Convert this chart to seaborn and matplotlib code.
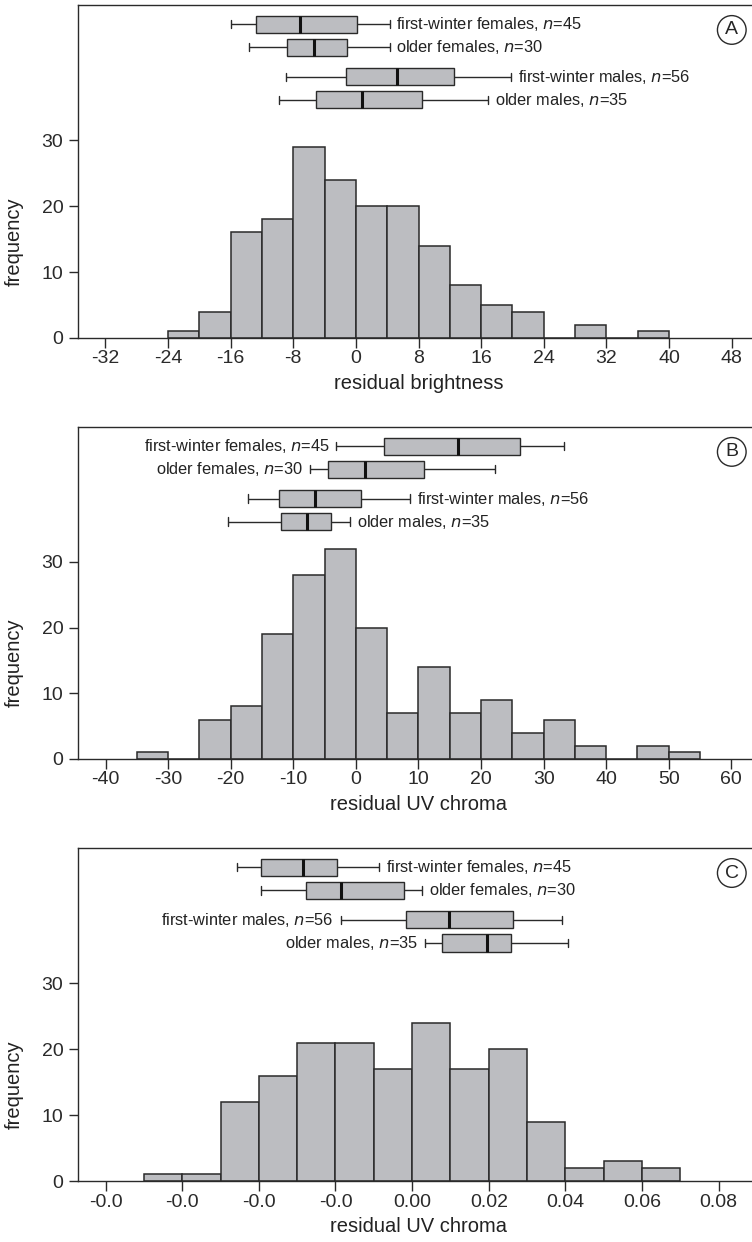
import matplotlib
matplotlib.use("Agg")
import matplotlib.pyplot as plt
import numpy as np
import pandas as pd
import seaborn as sns

# ---- data ----
groups = ["first-winter females", "older females", "first-winter males", "older males"]
group_n = [45, 30, 56, 35]

# panel A: residual brightness
a_bin_start, a_bin_width = -24, 4
a_counts = [1, 4, 16, 18, 29, 24, 20, 20, 14, 8, 5, 4, 0, 2, 0, 1]
# whisker low, q1, median, q3, whisker high (one row per group)
a_box = [[-15.9, -12.7, -7.2, 0.2, 4.3],
         [-13.7, -8.8, -5.3, -1.1, 4.3],
         [-8.9, -1.3, 5.2, 12.5, 19.8],
         [-9.8, -5.1, 0.8, 8.5, 16.9]]
a_sides = ["right", "right", "right", "right"]
a_ticks = [-32, -24, -16, -8, 0, 8, 16, 24, 32, 40, 48]
a_ticklabels = ["-32", "-24", "-16", "-8", "0", "8", "16", "24", "32", "40", "48"]

# panel B: residual UV chroma
b_bin_start, b_bin_width = -35, 5
b_counts = [1, 0, 6, 8, 19, 28, 32, 20, 7, 14, 7, 9, 4, 6, 2, 0, 2, 1]
b_box = [[-3.1, 4.5, 16.3, 26.3, 33.3],
         [-7.4, -4.5, 1.5, 10.9, 22.2],
         [-17.3, -12.3, -6.5, 0.8, 8.7],
         [-20.4, -11.9, -7.8, -3.9, -1.0]]
b_sides = ["left", "left", "right", "right"]
b_ticks = [-40, -30, -20, -10, 0, 10, 20, 30, 40, 50, 60]
b_ticklabels = ["-40", "-30", "-20", "-10", "0", "10", "20", "30", "40", "50", "60"]

# panel C: residual UV chroma
c_bin_start, c_bin_width = -0.07, 0.01
c_counts = [1, 1, 12, 16, 21, 21, 17, 24, 17, 20, 9, 2, 3, 2]
c_box = [[-0.0458, -0.0394, -0.0286, -0.0196, -0.0086],
         [-0.0394, -0.0276, -0.0185, -0.0022, 0.0025],
         [-0.0186, -0.0017, 0.0097, 0.0263, 0.0390],
         [0.0034, 0.0078, 0.0195, 0.0259, 0.0407]]
c_sides = ["right", "right", "left", "left"]
c_ticks = [-0.08, -0.06, -0.04, -0.02, 0.0, 0.02, 0.04, 0.06, 0.08]
c_ticklabels = ["-0.0", "-0.0", "-0.0", "-0.0", "0.00", "0.02", "0.04", "0.06", "0.08"]

# ---- style ----
sns.set_style("ticks")
narrow = ["Liberation Sans Narrow", "Liberation Sans", "DejaVu Sans"]
regular = ["Liberation Sans", "DejaVu Sans"]
plt.rcParams["font.family"] = narrow
plt.rcParams["mathtext.fontset"] = "custom"
plt.rcParams["mathtext.it"] = "Liberation Sans Narrow:italic"
plt.rcParams["mathtext.rm"] = "Liberation Sans Narrow"

fill = "#bcbdc1"
ink = "#2a2a2a"
row_y = [47.6, 44.1, 39.6, 36.1]

fig = plt.figure(figsize=(7.52, 12.42), dpi=100)
panels = [
    ("A", "residual brightness", a_bin_start, a_bin_width, a_counts, a_box, a_sides,
     a_ticks, a_ticklabels, (-35.5, 50.6), [0.1037, 0.7279, 0.8963, 0.2681]),
    ("B", "residual UV chroma", b_bin_start, b_bin_width, b_counts, b_box, b_sides,
     b_ticks, b_ticklabels, (-44.4, 63.3), [0.1037, 0.3889, 0.8963, 0.2673]),
    ("C", "residual UV chroma", c_bin_start, c_bin_width, c_counts, c_box, c_sides,
     c_ticks, c_ticklabels, (-0.0872, 0.0887), [0.1037, 0.0491, 0.8963, 0.2681]),
]

for letter, xlabel, start, width, counts, box, sides, ticks, ticklabels, xlim, rect in panels:
    ax = fig.add_axes(rect)
    edges = [start + width * i for i in range(len(counts) + 1)]
    hist = pd.DataFrame({"x": [e + width / 2 for e in edges[:-1]], "count": counts})
    sns.histplot(data=hist, x="x", weights="count", bins=edges, ax=ax, color=fill,
                 edgecolor=ink, linewidth=1.1, alpha=1)

    long = pd.DataFrame({
        "value": np.concatenate(box),
        "row": np.repeat(row_y, 5),
    })
    sns.boxplot(data=long, x="value", y="row", orient="y", native_scale=True,
                whis=(0, 100), width=0.74, color=fill, saturation=1,
                linecolor=ink, linewidth=1.0, ax=ax,
                medianprops={"linewidth": 2.2, "color": "#111111"})

    for stats, pos, name, n, side in zip(box, row_y, groups, group_n, sides):
        label = f"{name}, $n$=" + str(n)
        if side == "right":
            ax.annotate(label, xy=(stats[4], pos), xytext=(5, 0), textcoords="offset points",
                        ha="left", va="center", fontsize=11.8, color="#222222")
        else:
            ax.annotate(label, xy=(stats[0], pos), xytext=(-5, 0), textcoords="offset points",
                        ha="right", va="center", fontsize=11.8, color="#222222")

    ax.text(0.970, 0.925, letter, transform=ax.transAxes, ha="center", va="center",
            fontsize=14, family=regular,
            bbox=dict(boxstyle="circle,pad=0.3", fc="white", ec=ink, lw=1.0))

    ax.set_xlim(*xlim)
    ax.set_ylim(0, 50.5)
    ax.set_xticks(ticks)
    ax.set_xticklabels(ticklabels)
    ax.set_yticks([0, 10, 20, 30])
    ax.tick_params(axis="x", length=7, width=1, pad=2, labelsize=14, colors=ink)
    ax.tick_params(axis="y", length=6.5, width=1, pad=4, labelsize=14, colors=ink)
    for side in ["left", "top", "bottom"]:
        ax.spines[side].set_color(ink)
        ax.spines[side].set_linewidth(1.0)
    ax.spines["right"].set_visible(False)

    ax.set_xlabel(xlabel, fontsize=14.5, family=regular, color="#222222")
    ax.xaxis.set_label_coords(0.505, -0.108)
    ax.set_ylabel("frequency", fontsize=14.5, family=regular, color="#222222")
    ax.yaxis.set_label_coords(-0.08, 0.29)

fig.savefig("out.png", dpi=100)
